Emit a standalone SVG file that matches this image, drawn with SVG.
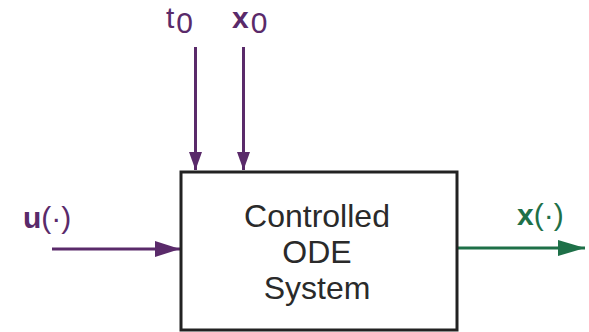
<svg xmlns="http://www.w3.org/2000/svg" width="589" height="332" viewBox="0 0 589 332">
<style>
.lbl{font-family:"Liberation Sans",Arial,sans-serif;font-size:30px;}
.box{font-family:"Liberation Sans",Arial,sans-serif;font-size:32px;fill:#2a2a2a;text-anchor:middle;}
.p{stroke:#5a2a6a;stroke-width:3;fill:none;}
.g{stroke:#1e7048;stroke-width:3;fill:none;}
</style>
<defs>
<marker id="apv" markerWidth="18" markerHeight="13" refX="18" refY="6.5" orient="auto" markerUnits="userSpaceOnUse" viewBox="0 0 18 13"><path d="M0,0 L18,6.5 L0,13 Z" fill="#5a2a6a"/></marker>
<marker id="ap" markerWidth="25" markerHeight="16" refX="25" refY="8" orient="auto" markerUnits="userSpaceOnUse" viewBox="0 0 25 16"><path d="M0,0 L25,8 L0,16 Z" fill="#5a2a6a"/></marker>
<marker id="ag" markerWidth="27" markerHeight="16" refX="27" refY="8" orient="auto" markerUnits="userSpaceOnUse" viewBox="0 0 27 16"><path d="M0,0 L27,8 L0,16 Z" fill="#1e7048"/></marker>
</defs>
<rect width="589" height="332" fill="#fff"/>
<g id="connectors">
<line class="p" x1="195.5" y1="47" x2="195.5" y2="170" style="marker-end:url(#apv)"/>
<line class="p" x1="243.5" y1="47" x2="243.5" y2="170" style="marker-end:url(#apv)"/>
<line class="p" x1="52" y1="249" x2="180" y2="249" style="marker-end:url(#ap)"/>
<line class="g" x1="457" y1="248" x2="585" y2="248" style="marker-end:url(#ag)"/>
</g>
<g id="system">
<rect x="181" y="172" width="276" height="158" fill="#fff" stroke="#222" stroke-width="3"/>
<text class="box" x="317" y="227">Controlled</text>
<text class="box" x="317" y="263">ODE</text>
<text class="box" x="317" y="299">System</text>
</g>
<g id="t0"><text class="lbl" x="166" y="28" fill="#5a2a6a">t<tspan dy="5" dx="2">0</tspan></text></g>
<g id="x0"><text class="lbl" x="232" y="28" fill="#5a2a6a"><tspan font-weight="bold">x</tspan><tspan dy="5" dx="2">0</tspan></text></g>
<g id="u"><text class="lbl" x="23" y="228" fill="#5a2a6a"><tspan font-weight="bold">u</tspan>(·)</text></g>
<g id="x"><text class="lbl" x="517" y="225" fill="#1e7048"><tspan font-weight="bold">x</tspan>(·)</text></g>
</svg>
